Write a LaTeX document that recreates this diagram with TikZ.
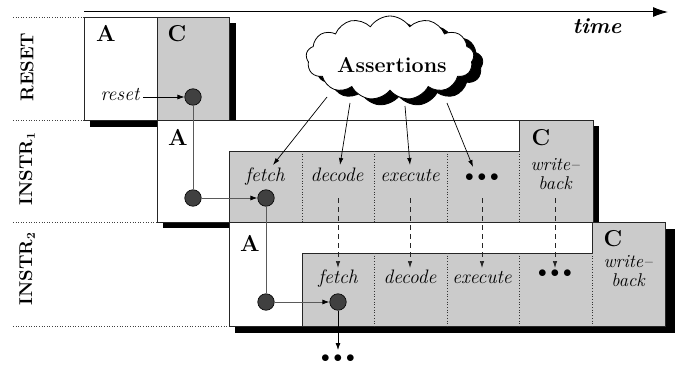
\documentclass[tikz,border=0pt]{standalone}
\usetikzlibrary{arrows.meta,shapes.symbols}
\definecolor{boxgray}{HTML}{CBCBCB}
\definecolor{dotgray}{HTML}{404040}
\definecolor{edgegray}{HTML}{5A5A5A}
\begin{document}
\begin{tikzpicture}[x=1pt,y=-1pt,
  boxline/.style={draw=black!85, line width=0.8pt},
  shade/.style={fill=black},
  stage/.style={font=\fontsize{19.5}{17}\selectfont\itshape, anchor=base, inner sep=0pt},
  stagetwo/.style={font=\fontsize{18.5}{18.5}\selectfont\itshape, align=center, anchor=center, inner sep=0pt},
  big/.style={font=\fontsize{23}{23}\selectfont\bfseries, anchor=base, inner sep=0pt},
  rowlab/.style={font=\fontsize{18.5}{18}\selectfont\bfseries, rotate=90, inner sep=0pt},
  bulls/.style={font=\fontsize{18.5}{17}\selectfont, inner sep=0pt},
  sepline/.style={dotted, line width=0.7pt, black!80},
  guide/.style={dotted, line width=0.6pt, black!75},
  dotnode/.style={circle, draw=black, fill=dotgray, minimum size=16.5pt, inner sep=0pt, line width=0.6pt},
  flow/.style={draw=edgegray, line width=0.9pt},
  tip/.style={-{Latex[length=7pt,width=5pt,color=black]}},
  pass/.style={draw=black!85, dash pattern=on 5pt off 4pt, line width=0.7pt, -{Latex[length=7pt,width=4.5pt]}},
  assert/.style={draw=black, line width=0.7pt, -{Latex[length=7pt,width=4.5pt]}},
  puff/.style={cloud, cloud puffs=13, cloud puff arc=115, minimum width=168pt, minimum height=84pt, inner sep=0pt, line width=0.8pt}
]
\useasboundingbox (0,0) rectangle (683,369);

% time axis
\coordinate (ta) at (84,12);
\coordinate (tb) at (668,12);
\draw[line width=1pt, -{Latex[length=15pt,width=10pt]}] (ta) -- (tb);
\node[font=\fontsize{22}{22}\selectfont\bfseries\itshape, anchor=base, inner sep=0pt] (time) at (597,34) {time};

% guide lines
\coordinate (g1a) at (13,17);  \coordinate (g1b) at (84,17);
\coordinate (g2a) at (13,120); \coordinate (g2b) at (84,120);
\coordinate (g3a) at (13,222); \coordinate (g3b) at (157,222);
\coordinate (g4a) at (13,326); \coordinate (g4b) at (229,326);
\draw[guide] (g1a) -- (g1b);
\draw[guide] (g2a) -- (g2b);
\draw[guide] (g3a) -- (g3b);
\draw[guide] (g4a) -- (g4b);

% row labels
\node[rowlab] (rreset) at (27,67) {RESET};
\node[rowlab] (rinstr1) at (27,169) {INSTR$_{\mathbf{1}}$};
\node[rowlab] (rinstr2) at (27,269) {INSTR$_{\mathbf{2}}$};

% RESET row
\fill[shade] (90,23) rectangle (236,127);
\draw[boxline, fill=white] (84,17) rectangle (229,120);
\draw[boxline, fill=boxgray] (157,17) rectangle (229,120);
\node[big] (a0) at (106,42) {A};
\node[big] (c0) at (177,42) {C};

% INSTR1 row
\fill[shade] (163,126) rectangle (599,228);
\draw[boxline, fill=white] (157,120) rectangle (593,222);
\draw[boxline, fill=boxgray] (229,222) -- (229,151) -- (519,151) -- (519,120) -- (593,120) -- (593,222) -- cycle;
\foreach \xx in {302,374,447,519} \draw[sepline] (\xx,151) -- (\xx,222);
\node[big] (a1) at (178,145) {A};
\node[big] (c1) at (541,145) {C};
\node[stage] (f1) at (265,181) {fetch};
\node[stage] (d1l) at (337,181) {decode};
\node[stage] (e1) at (410,181) {execute};
\node[bulls] (m1) at (482,178) {$\bullet\bullet\bullet$};
\node[stagetwo] (w1) at (555,174) {write--\\back};

% INSTR2 row
\fill[shade] (235,229) rectangle (675,333);
\draw[boxline, fill=white] (229,222) rectangle (665,326);
\draw[boxline, fill=boxgray] (302,326) -- (302,253) -- (592,253) -- (592,222) -- (665,222) -- (665,326) -- cycle;
\foreach \xx in {374,447,519,592} \draw[sepline] (\xx,253) -- (\xx,326);
\node[big] (a2) at (250,251) {A};
\node[big] (c2) at (613,246) {C};
\node[stage] (f2) at (338,283) {fetch};
\node[stage] (d2l) at (410,283) {decode};
\node[stage] (e2) at (482,283) {execute};
\node[bulls] (m2) at (555,274) {$\bullet\bullet\bullet$};
\node[stagetwo] (w2) at (628,271) {write--\\back};

% control flow dots
\node[stage] (rst) at (120,100) {reset};
\coordinate (rsts) at (143,97);
\node[dotnode] (p1) at (193,97) {};
\node[dotnode] (p2) at (193,198) {};
\node[dotnode] (p3) at (266,198) {};
\node[dotnode] (p4) at (266,302) {};
\node[dotnode] (p5) at (338,302) {};
\coordinate (pend) at (338,350);
\node[bulls] (m3) at (338,359) {$\bullet\bullet\bullet$};
\draw[draw=black, line width=0.7pt, tip] (rsts) -- (p1);
\draw[flow] (p1) -- (p2);
\draw[flow, tip] (p2) -- (p3);
\draw[flow] (p3) -- (p4);
\draw[flow, tip] (p4) -- (p5);
\draw[draw=black, line width=0.8pt, tip] (p5) -- (pend);

% pipeline passes
\foreach \xx/\nm in {338/q1,410/q2,482/q3,555/q4} {
  \coordinate (\nm s) at (\xx,198);
  \coordinate (\nm e) at (\xx,268);
  \draw[pass] (\nm s) -- (\nm e);
}

% assertions cloud
\node[puff, fill=black, draw=black] (cloudsh) at (399,64) {};
\node[puff, fill=white, draw=black] (cloud) at (390,58) {};
\node[font=\fontsize{21.5}{21}\selectfont\bfseries, anchor=base, inner sep=0pt] (assertions) at (392,73) {Assertions};
\coordinate (k1) at (327,97);  \coordinate (h1) at (273,165);
\coordinate (k2) at (350,103); \coordinate (h2) at (340,165);
\coordinate (k3) at (405,106); \coordinate (h3) at (410,165);
\coordinate (k4) at (447,103); \coordinate (h4) at (473,167);
\draw[assert] (k1) -- (h1);
\draw[assert] (k2) -- (h2);
\draw[assert] (k3) -- (h3);
\draw[assert] (k4) -- (h4);
\end{tikzpicture}
\end{document}
